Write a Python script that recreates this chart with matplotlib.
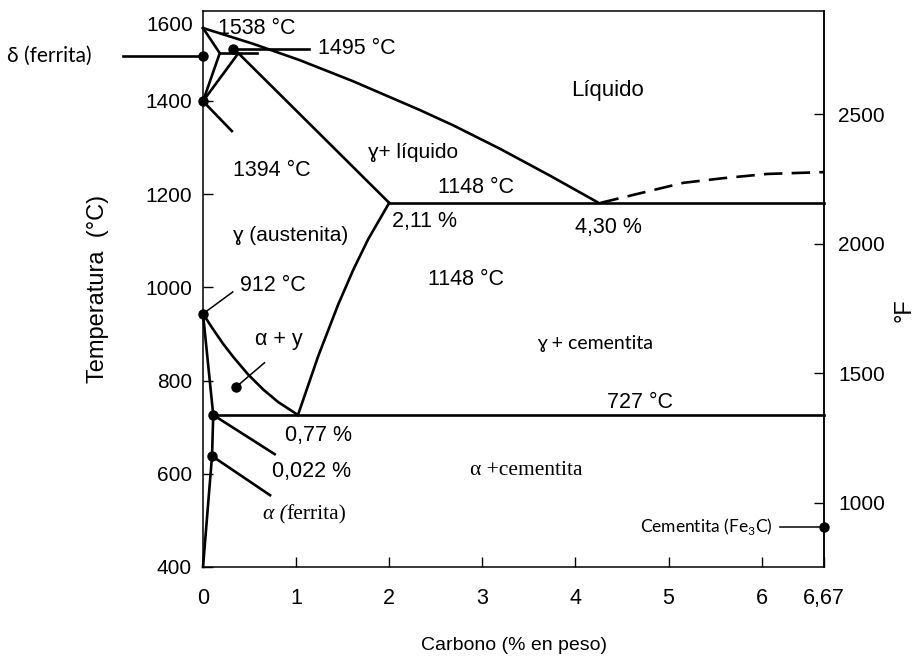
import matplotlib
matplotlib.use("Agg")
import matplotlib.pyplot as plt
import numpy as np

plt.rcParams['font.family'] = ['Liberation Sans', 'DejaVu Sans']
plt.rcParams['mathtext.fontset'] = 'custom'

# Fe-C diagram (schematic: % C, deg C)
liq_c = [0.0, 0.54, 1.04, 1.61, 2.33, 2.69, 3.19, 3.73, 4.25]
liq_t = [1556, 1522, 1487, 1442, 1380, 1347, 1297, 1239, 1181]
dash_c = [4.27, 4.62, 5.16, 5.59, 6.06, 6.67]
dash_t = [1181, 1198, 1224, 1234, 1243, 1247]
delta_c = [0.0, 0.18, 0.0]
delta_t = [1556, 1502, 1399]
gam_c = [0.0, 0.38, 2.0]
gam_t = [1399, 1502, 1181]
perit_c = [0.18, 0.58]
perit_t = [1502, 1502]
eut_c = [2.0, 6.67]
eut_t = [1181, 1181]
a3_c = [0.0, 0.108, 0.215, 0.323, 0.484, 0.645, 0.806, 1.02]
a3_t = [943, 910, 879, 851, 813, 781, 754, 726]
acm_c = [1.02, 1.237, 1.452, 1.613, 1.774, 2.0]
acm_t = [726, 852, 963, 1037, 1103, 1181]
eutd_c = [0.11, 6.67]
eutd_t = [726, 726]
alpha_c = [0.0, 0.11, 0.097, 0.0]
alpha_t = [943, 726, 638, 400]

dots_c = [0.32, 0.0, 0.0, 0.11, 0.097, 0.355, 6.67, 0.0]
dots_t = [1511, 1496, 1399, 726, 638, 786, 486, 943]

# leader lines: (c0, t0, c1, t1, thick)
leaders = [
    (0.32, 1511, 1.14, 1511, True),
    (0.0, 1496, -0.86, 1496, True),
    (0.0, 1399, 0.31, 1335, True),
    (0.0, 943, 0.32, 990, False),
    (0.355, 786, 0.66, 838, False),
    (0.11, 726, 0.77, 642, True),
    (0.097, 638, 0.72, 554, True),
    (6.67, 486, 6.2, 486, False),
]

# text, x, y, font, size, alignment
labels = [
    ('1538 °C', 0.16, 1556, 'sans', 15.5, 'left'),
    ('1495 °C', 1.24, 1513, 'sans', 15.5, 'left'),
    ('Líquido', 3.95, 1423, 'sans', 16, 'left'),
    ('ɣ+ líquido', 1.77, 1288, 'sans', 15, 'left'),
    ('1394 °C', 0.32, 1251, 'sans', 15.5, 'left'),
    ('1148 °C', 2.52, 1213, 'sans', 15.5, 'left'),
    ('2,11 %', 2.03, 1140, 'sans', 15.5, 'left'),
    ('4,30 %', 4.0, 1129, 'sans', 15.5, 'left'),
    ('ɣ (austenita)', 0.32, 1112, 'sans', 15, 'left'),
    ('1148 °C', 2.42, 1016, 'sans', 15.5, 'left'),
    ('912 °C', 0.40, 1003, 'sans', 15.5, 'left'),
    ('α + y', 0.56, 887, 'sans', 15.5, 'left'),
    ('ɣ + cementita', 3.59, 880, 'cal', 14, 'left'),
    ('727 °C', 4.34, 752, 'sans', 15.5, 'left'),
    ('0,77 %', 0.88, 683, 'sans', 15.5, 'left'),
    ('0,022 %', 0.74, 604, 'sans', 15.5, 'left'),
    ('α +cementita', 2.87, 608, 'serif', 15.5, 'left'),
    ('Cementita (Fe$_{\\mathregular{3}}$C)', 6.12, 486, 'cal', 12.5, 'right'),
    ('δ (ferrita)', -2.10, 1496, 'cal', 15, 'left'),
]

fams = {'sans': ['Liberation Sans', 'DejaVu Sans'],
        'cal': ['Lato', 'DejaVu Sans'],
        'serif': ['Liberation Serif', 'DejaVu Serif']}

def c2f(c):
    return np.asarray(c) * 9.0 / 5.0 + 32

def f2c(f):
    return (np.asarray(f) - 32) * 5.0 / 9.0

fig = plt.figure(figsize=(9.22, 6.58), dpi=100)
ax = fig.add_axes([203/922, 1 - 567/658, 621/922, 556/658])

lw = 1.9
for cc, tt in [(liq_c, liq_t), (delta_c, delta_t), (gam_c, gam_t), (perit_c, perit_t),
               (eut_c, eut_t), (acm_c, acm_t), (eutd_c, eutd_t), (alpha_c, alpha_t)]:
    ax.plot(cc, tt, color='black', lw=lw, solid_joinstyle='miter', clip_on=False)
ax.plot(a3_c, a3_t, color='black', lw=lw)
ax.plot(dash_c, dash_t, color='black', lw=lw, ls=(0, (7, 3.5)))

for c0, t0, c1, t1, thick in leaders:
    ax.plot([c0, c1], [t0, t1], color='black', lw=lw if thick else 1.1, clip_on=False)

ax.plot(dots_c, dots_t, 'o', color='black', ms=6.5, clip_on=False, zorder=5)

for s, c, t, f, size, ha in labels:
    ax.text(c, t, s, ha=ha, va='center', fontsize=size, family=fams[f], clip_on=False)

# alpha (ferrita), greek letter in italic
t1 = ax.text(0.645, 512, 'α (', ha='left', va='center', fontsize=15.5,
             family=fams['serif'], style='italic')
ax.annotate('ferrita)', xy=(1, 0), xycoords=t1, va='bottom', ha='left',
            fontsize=15.5, family=fams['serif'])

ax.set_xlim(0, 6.67)
ax.set_ylim(400, 1592.5)
ax.set_xticks([0, 1, 2, 3, 4, 5, 6, 6.67])
ax.set_xticklabels(['0', '1', '2', '3', '4', '5', '6', '6,67'])
ax.set_yticks([400, 600, 800, 1000, 1200, 1400])
ax.tick_params(direction='in', length=7, width=1, labelsize=15)
ax.tick_params(axis='x', pad=15, labelsize=15.5)
ax.tick_params(axis='y', pad=8)
ax.text(-0.016, 1562, '1600', transform=ax.get_yaxis_transform(), ha='right',
        va='center', fontsize=15)
for sp in ax.spines.values():
    sp.set_linewidth(1.1)

sec = ax.secondary_yaxis('right', functions=(c2f, f2c))
sec.set_yticks([1000, 1500, 2000, 2500])
sec.tick_params(direction='in', length=7, width=1, labelsize=15, pad=10)
sec.spines['right'].set_linewidth(1.1)

ax.set_ylabel('Temperatura  (°C)', fontsize=17, labelpad=26)
ax.set_xlabel('Carbono (% en peso)', fontsize=14, labelpad=20)
fig.text(905/922, 1 - 310/658, '°F', rotation=90, ha='center', va='center', fontsize=17)

fig.savefig('out.png', dpi=100)
